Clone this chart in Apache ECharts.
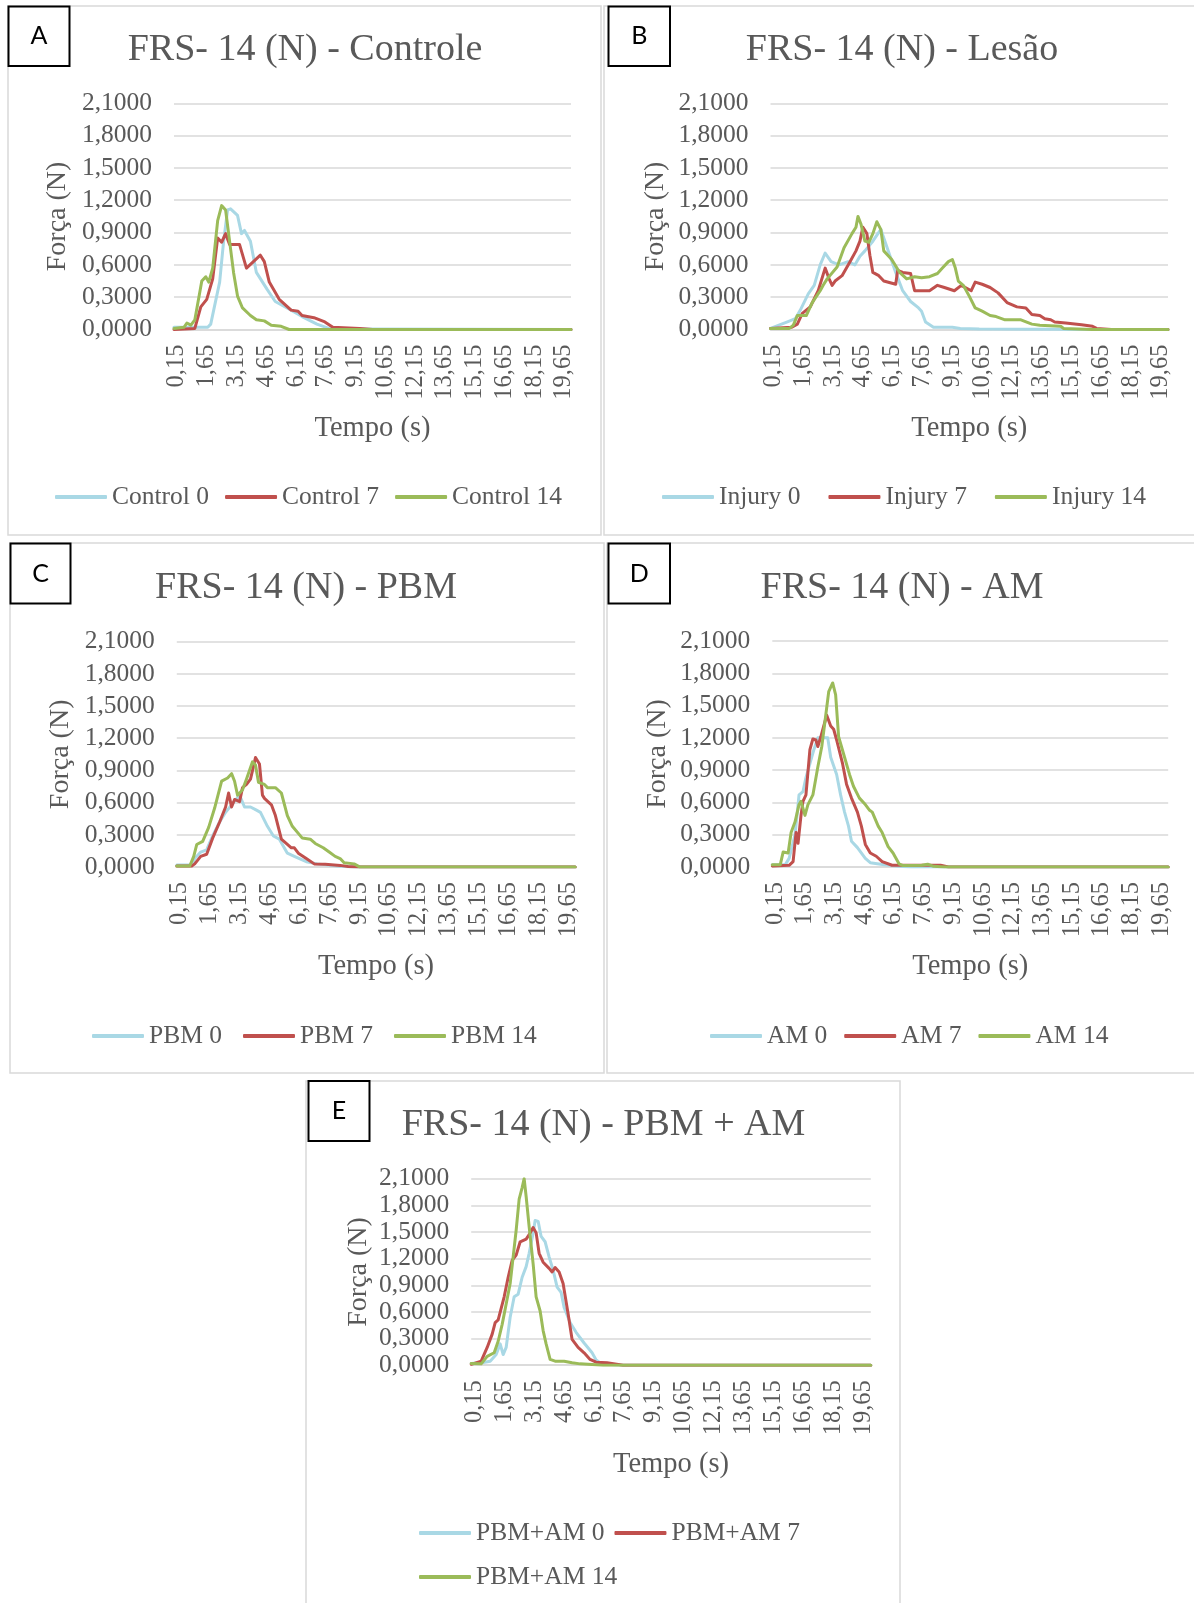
<!DOCTYPE html>
<html>
<head>
<meta charset="utf-8">
<title>FRS- 14 (N)</title>
<script src="https://cdn.jsdelivr.net/npm/echarts@6/dist/echarts.min.js"></script>
<style>
  html, body { margin: 0; padding: 0; background: #fff; }
  #chart { width: 1194px; height: 1603px; }
</style>
</head>
<body>
<div id="chart"></div>
<script>
// ====== eixo do tempo (0,00 ... 20,00 s, passo 0,05) ======
const STEP = 0.05;
const timeLabels = [];
for (let i = 0; i <= 400; i++) timeLabels.push((i * STEP).toFixed(2).replace(".", ","));

// ====== dados: [tempo (s), força (N)] ======
const control0 = [[0,0.02],[1.70,0.02],[1.85,0.05],[2.00,0.18],[2.30,0.44],[2.50,0.82],[2.70,1.11],[2.85,1.12],[3.20,1.06],[3.40,0.89],[3.55,0.92],[3.85,0.82],[4.15,0.53],[4.70,0.37],[5.10,0.26],[5.90,0.18],[6.45,0.12],[7.20,0.05],[7.80,0.01],[9.00,0.005],[20,0]];
const control7 = [[0,0],[1.05,0.01],[1.35,0.21],[1.65,0.28],[1.95,0.47],[2.20,0.85],[2.40,0.81],[2.60,0.89],[2.80,0.79],[3.30,0.79],[3.65,0.57],[4.35,0.69],[4.55,0.63],[4.80,0.44],[5.30,0.28],[5.90,0.18],[6.25,0.17],[6.45,0.13],[7.05,0.11],[7.60,0.07],[8.00,0.02],[9.35,0.01],[10.0,0],[20,0]];
const control14 = [[0,0.01],[0.50,0.02],[0.65,0.06],[0.85,0.04],[1.05,0.09],[1.40,0.45],[1.60,0.49],[1.75,0.44],[1.95,0.57],[2.20,1.01],[2.40,1.15],[2.60,1.11],[2.80,0.82],[3.00,0.53],[3.20,0.31],[3.45,0.20],[3.85,0.13],[4.15,0.09],[4.55,0.08],[4.90,0.04],[5.40,0.03],[5.80,0],[20,0]];

const injury0 = [[0,0.01],[0.85,0.07],[1.25,0.10],[1.50,0.18],[1.90,0.33],[2.20,0.41],[2.50,0.60],[2.75,0.71],[3.05,0.63],[3.45,0.60],[3.90,0.63],[4.25,0.60],[4.50,0.68],[4.75,0.73],[5.15,0.82],[5.55,0.93],[5.70,0.85],[6.00,0.69],[6.30,0.53],[6.65,0.36],[7.05,0.26],[7.45,0.20],[7.60,0.17],[7.80,0.07],[8.20,0.02],[9.15,0.02],[9.55,0.01],[10.50,0.005],[14.50,0.003],[15.00,0],[20,0]];
const injury7 = [[0,0.01],[1.05,0.02],[1.35,0.05],[1.60,0.15],[2.00,0.21],[2.40,0.36],[2.75,0.57],[2.95,0.47],[3.10,0.41],[3.25,0.45],[3.60,0.50],[4.00,0.63],[4.30,0.73],[4.50,0.82],[4.65,0.95],[4.85,0.89],[5.00,0.69],[5.15,0.53],[5.45,0.50],[5.70,0.45],[6.30,0.42],[6.40,0.55],[6.65,0.53],[7.05,0.52],[7.25,0.36],[8.00,0.36],[8.40,0.41],[8.75,0.39],[9.25,0.36],[9.60,0.41],[10.10,0.36],[10.30,0.44],[10.65,0.42],[11.05,0.39],[11.45,0.34],[11.90,0.25],[12.40,0.21],[12.85,0.20],[13.15,0.14],[13.55,0.13],[13.80,0.10],[14.10,0.09],[14.30,0.07],[14.85,0.06],[15.65,0.045],[16.20,0.03],[16.40,0.01],[17.15,0],[20,0]];
const injury14 = [[0,0.01],[0.95,0.01],[1.15,0.04],[1.35,0.13],[1.80,0.13],[2.10,0.25],[2.50,0.36],[2.65,0.41],[2.85,0.47],[3.35,0.58],[3.70,0.76],[4.10,0.89],[4.30,0.95],[4.40,1.05],[4.55,0.98],[4.75,0.82],[4.95,0.81],[5.15,0.89],[5.35,1.00],[5.55,0.93],[5.70,0.73],[6.10,0.65],[6.50,0.53],[6.85,0.47],[7.25,0.49],[7.60,0.48],[8.00,0.49],[8.40,0.52],[8.65,0.57],[8.95,0.63],[9.15,0.65],[9.30,0.57],[9.45,0.45],[9.70,0.41],[10.00,0.31],[10.30,0.20],[10.65,0.17],[11.05,0.13],[11.35,0.12],[11.80,0.09],[12.60,0.09],[13.15,0.05],[13.55,0.04],[14.60,0.03],[14.75,0.01],[16.20,0],[20,0]];

const pbm0 = [[0,0.02],[0.75,0.02],[0.90,0.08],[1.20,0.14],[1.50,0.16],[1.80,0.29],[2.15,0.42],[2.45,0.51],[2.75,0.58],[3.15,0.67],[3.40,0.56],[3.70,0.56],[4.00,0.53],[4.20,0.51],[4.55,0.38],[4.85,0.29],[5.15,0.26],[5.55,0.13],[5.90,0.10],[6.50,0.05],[7.05,0.03],[8.05,0.01],[8.80,0],[20,0]];
const pbm7 = [[0,0.01],[0.75,0.01],[0.90,0.03],[1.20,0.10],[1.50,0.12],[1.80,0.27],[2.15,0.42],[2.45,0.56],[2.60,0.69],[2.75,0.56],[2.90,0.63],[3.15,0.61],[3.30,0.74],[3.50,0.77],[3.70,0.82],[3.95,1.02],[4.15,0.96],[4.30,0.67],[4.40,0.64],[4.75,0.58],[4.95,0.48],[5.25,0.26],[5.75,0.18],[5.90,0.18],[6.10,0.13],[6.50,0.08],[6.90,0.03],[7.45,0.026],[8.20,0.016],[8.60,0.006],[9.10,0],[20,0]];
const pbm14 = [[0,0.01],[0.65,0.01],[0.85,0.10],[1.00,0.21],[1.30,0.24],[1.60,0.37],[1.90,0.55],[2.25,0.80],[2.55,0.83],[2.75,0.87],[2.90,0.80],[3.05,0.67],[3.30,0.72],[3.50,0.82],[3.80,0.98],[3.95,0.95],[4.10,0.79],[4.40,0.77],[4.55,0.74],[4.95,0.74],[5.25,0.69],[5.55,0.48],[5.80,0.38],[6.30,0.27],[6.70,0.26],[6.95,0.22],[7.35,0.18],[7.65,0.14],[7.95,0.10],[8.20,0.08],[8.40,0.04],[8.90,0.03],[9.20,0],[20,0]];

const am0 = [[0,0.02],[0.65,0.02],[0.85,0.08],[1.15,0.30],[1.35,0.67],[1.55,0.70],[1.70,0.83],[1.90,0.96],[2.10,1.09],[2.30,1.20],[2.80,1.20],[2.95,1.02],[3.25,0.86],[3.45,0.67],[3.65,0.51],[3.85,0.38],[4.00,0.24],[4.30,0.18],[4.70,0.08],[4.95,0.04],[5.65,0.02],[6.40,0.006],[7.00,0],[20,0]];
const am7 = [[0,0.01],[0.85,0.016],[1.05,0.05],[1.20,0.32],[1.30,0.22],[1.45,0.48],[1.55,0.61],[1.70,0.67],[1.90,1.09],[2.05,1.19],[2.20,1.18],[2.30,1.12],[2.45,1.21],[2.60,1.31],[2.75,1.41],[2.95,1.31],[3.10,1.28],[3.25,1.18],[3.55,0.96],[3.75,0.77],[4.00,0.64],[4.30,0.51],[4.50,0.38],[4.70,0.21],[4.95,0.13],[5.25,0.10],[5.55,0.05],[6.05,0.016],[8.50,0.016],[8.90,0],[20,0]];
const am14 = [[0,0.02],[0.40,0.02],[0.55,0.14],[0.80,0.13],[0.95,0.32],[1.15,0.42],[1.35,0.58],[1.45,0.61],[1.65,0.48],[1.80,0.58],[2.05,0.67],[2.30,0.93],[2.50,1.12],[2.70,1.41],[2.85,1.63],[3.05,1.71],[3.20,1.60],[3.35,1.21],[3.65,1.02],[3.90,0.86],[4.10,0.75],[4.40,0.64],[4.70,0.58],[4.90,0.53],[5.05,0.51],[5.35,0.38],[5.55,0.32],[5.85,0.19],[6.10,0.13],[6.40,0.03],[6.60,0.013],[7.55,0.016],[7.85,0.026],[8.15,0.006],[8.70,0],[20,0]];

const pbmam0 = [[0,0.02],[0.60,0.03],[0.95,0.045],[1.25,0.12],[1.45,0.24],[1.60,0.12],[1.75,0.20],[1.95,0.54],[2.15,0.77],[2.35,0.80],[2.55,0.99],[2.75,1.11],[2.90,1.26],[3.10,1.49],[3.20,1.63],[3.35,1.62],[3.50,1.45],[3.70,1.39],[3.90,1.22],[4.10,1.07],[4.30,0.88],[4.50,0.82],[4.65,0.65],[4.95,0.48],[5.25,0.37],[5.65,0.25],[6.05,0.14],[6.25,0.06],[6.50,0.02],[7.00,0.008],[7.60,0],[20,0]];
const pbmam7 = [[0,0.01],[0.50,0.045],[0.80,0.20],[1.05,0.35],[1.20,0.48],[1.35,0.51],[1.65,0.77],[1.85,0.99],[2.05,1.18],[2.25,1.24],[2.45,1.39],[2.75,1.42],[2.90,1.47],[3.10,1.55],[3.25,1.49],[3.40,1.26],[3.60,1.16],[3.90,1.09],[4.05,1.05],[4.20,1.10],[4.40,1.05],[4.60,0.92],[4.85,0.58],[5.05,0.29],[5.35,0.20],[5.65,0.14],[5.95,0.065],[6.25,0.034],[6.80,0.027],[7.20,0.015],[7.60,0],[20,0]];
const pbmam14 = [[0,0.02],[0.50,0.015],[0.80,0.10],[1.15,0.14],[1.35,0.27],[1.55,0.46],[1.75,0.69],[1.95,0.92],[2.10,1.22],[2.25,1.52],[2.40,1.87],[2.55,2.00],[2.65,2.10],[2.75,1.90],[2.90,1.56],[3.10,1.14],[3.25,0.77],[3.45,0.61],[3.60,0.39],[3.75,0.24],[3.95,0.065],[4.20,0.045],[4.65,0.045],[5.05,0.027],[5.45,0.015],[6.05,0.008],[6.60,0],[20,0]];

// ====== estilo ======
const COLORS = ["#a9d8e5", "#c0504d", "#9bbb59"];
const FONT = "Liberation Serif";
const TXT = "#595959";
const GRID_LINE = "#d9d9d9";

// posições de cada painel (px)
const panels = [
  { tag: "A", title: "FRS- 14 (N) - Controle", names: ["Control 0", "Control 7", "Control 14"], data: [control0, control7, control14],
    grid: { left: 174, top: 103.3, width: 397, height: 226.2 }, head: [305, 50], legends: [{ left: 55, cy: 497, n: [0, 1, 2], gap: 16 }],
    frame: [8, 6, 593, 529], box: [8.5, 6.5, 61, 59.5], nameGapY: 102 },
  { tag: "B", title: "FRS- 14 (N) - Lesão", names: ["Injury 0", "Injury 7", "Injury 14"], data: [injury0, injury7, injury14],
    grid: { left: 770.5, top: 103.3, width: 397.5, height: 226.2 }, head: [902, 50], legends: [{ left: 662, cy: 497, n: [0, 1, 2], gap: 28 }],
    frame: [604, 6, 600, 529], box: [608.5, 6.5, 61.5, 59.5], nameGapY: 101 },
  { tag: "C", title: "FRS- 14 (N) - PBM", names: ["PBM 0", "PBM 7", "PBM 14"], data: [pbm0, pbm7, pbm14],
    grid: { left: 176.8, top: 641.6, width: 398.4, height: 225.5 }, head: [306, 588], legends: [{ left: 92, cy: 1036, n: [0, 1, 2], gap: 21 }],
    frame: [10, 543, 594, 530], box: [10.5, 543.5, 60, 60], nameGapY: 102 },
  { tag: "D", title: "FRS- 14 (N) - AM", names: ["AM 0", "AM 7", "AM 14"], data: [am0, am7, am14],
    grid: { left: 772.3, top: 641, width: 395.9, height: 226 }, head: [902, 588], legends: [{ left: 710, cy: 1036, n: [0, 1, 2], gap: 17 }],
    frame: [607, 543, 600, 530], box: [608.5, 543.5, 61.5, 60], nameGapY: 101 },
  { tag: "E", title: "FRS- 14 (N) - PBM + AM", names: ["PBM+AM 0", "PBM+AM 7", "PBM+AM 14"], data: [pbmam0, pbmam7, pbmam14],
    grid: { left: 471.2, top: 1178.7, width: 399.6, height: 186.5 }, head: [603.5, 1125],
    legends: [{ left: 419, cy: 1533, n: [0, 1], gap: 10 }, { left: 419, cy: 1577, n: [2], gap: 10 }],
    frame: [306, 1081, 594, 600], box: [308.5, 1081, 61, 60], nameGapY: 99 },
];

const grid = [], xAxis = [], yAxis = [], series = [], title = [], legend = [], graphic = [];

panels.forEach((p, i) => {
  grid.push(p.grid);
  xAxis.push({
    type: "category", gridIndex: i, data: timeLabels, boundaryGap: false,
    name: "Tempo (s)", nameLocation: "middle", nameGap: 85,
    nameTextStyle: { color: TXT, fontFamily: FONT, fontSize: 28.5 },
    axisLine: { lineStyle: { color: GRID_LINE, width: 1.5 } },
    axisTick: { show: false },
    axisLabel: {
      interval: (idx) => idx % 30 === 3, rotate: 90, margin: 15,
      color: TXT, fontFamily: FONT, fontSize: 24.5,
    },
    splitLine: { show: false },
  });
  yAxis.push({
    type: "value", gridIndex: i, min: 0, max: 2.1, interval: 0.3,
    name: "Força (N)", nameLocation: "middle", nameGap: p.nameGapY, nameRotate: 90,
    nameTextStyle: { color: TXT, fontFamily: FONT, fontSize: 28 },
    axisLine: { show: false }, axisTick: { show: false },
    axisLabel: { margin: 22, color: TXT, fontFamily: FONT, fontSize: 25.5, formatter: (v) => v.toFixed(4).replace(".", ",") },
    splitLine: { lineStyle: { color: GRID_LINE, width: 1.5 } },
  });
  p.data.forEach((pts, k) => {
    series.push({
      name: p.names[k], type: "line", xAxisIndex: i, yAxisIndex: i,
      symbol: "none", smooth: false, animation: false,
      color: COLORS[k],
      lineStyle: { width: 3, color: COLORS[k], cap: "round", join: "round" },
      data: pts.map(([t, v]) => [Math.round(t / STEP), v]),
    });
  });
  title.push({
    text: p.title, left: p.head[0], top: p.head[1], padding: 0,
    textAlign: "center", textVerticalAlign: "middle",
    textStyle: { color: TXT, fontFamily: FONT, fontSize: 38, fontWeight: "normal" },
  });
  p.legends.forEach((l) => {
    legend.push({
      data: l.n.map((k) => p.names[k]), left: l.left, top: l.cy - 14, padding: 0,
      icon: "roundRect", itemWidth: 52, itemHeight: 4, itemGap: l.gap,
      textStyle: { color: TXT, fontFamily: FONT, fontSize: 25.5, lineHeight: 28 },
    });
  });
  // moldura do painel
  graphic.push({
    type: "rect", z: 0, silent: true,
    shape: { x: p.frame[0], y: p.frame[1], width: p.frame[2], height: p.frame[3] },
    style: { fill: "none", stroke: GRID_LINE, lineWidth: 1.5 },
  });
  // caixa com a letra
  graphic.push({
    type: "rect", z: 10, silent: true,
    shape: { x: p.box[0], y: p.box[1], width: p.box[2], height: p.box[3] },
    style: { fill: "#fff", stroke: "#000", lineWidth: 2 },
  });
  graphic.push({
    type: "text", z: 11, silent: true,
    x: p.box[0] + p.box[2] / 2, y: p.box[1] + p.box[3] / 2,
    style: { text: p.tag, fill: "#000", font: "25px Lato", align: "center", verticalAlign: "middle" },
  });
});

const chart = echarts.init(document.getElementById("chart"), null, { renderer: "canvas" });
chart.setOption({ animation: false, backgroundColor: "#fff", grid, xAxis, yAxis, series, title, legend, graphic });
</script>
</body>
</html>
